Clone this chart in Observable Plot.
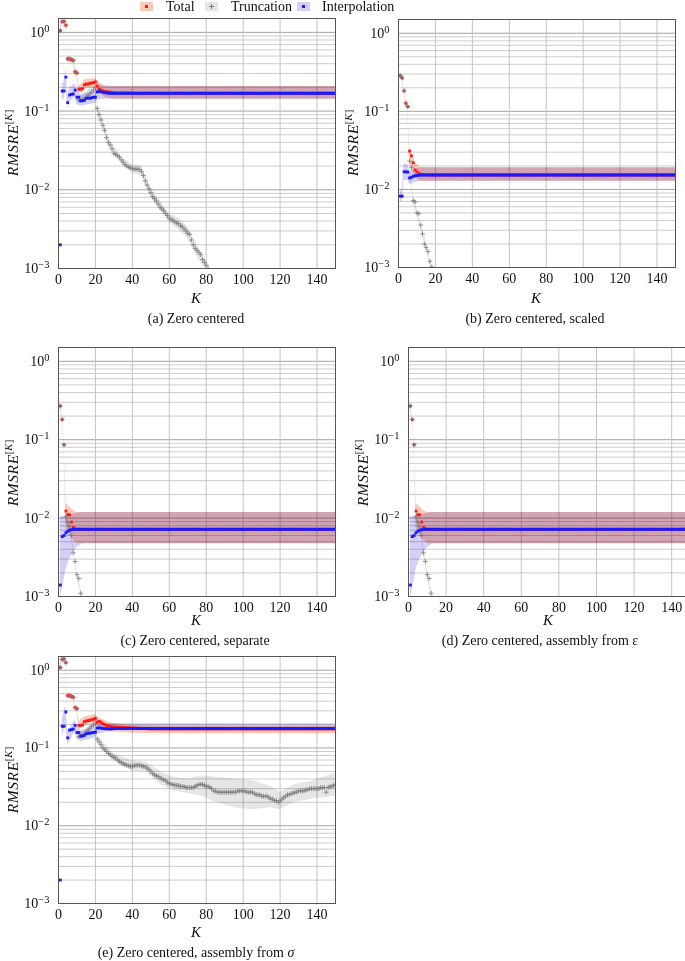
<!DOCTYPE html>
<html><head><meta charset="utf-8">
<script src="https://cdn.jsdelivr.net/npm/d3@7"></script>
<script src="https://cdn.jsdelivr.net/npm/@observablehq/plot@0.6"></script>
<style>
html,body{margin:0;padding:0;background:#fff;}
body{width:685px;height:961px;overflow:hidden;position:relative;font-family:"Liberation Serif",serif;color:#111;}
.abs{position:absolute;}
.abs svg{max-width:none !important;}
.cap{position:absolute;font-size:14px;white-space:nowrap;transform:translate(-50%,-50%);}
.klab{position:absolute;font-size:15px;font-style:italic;transform:translate(-50%,-50%);}
.ylab{position:absolute;font-size:15.5px;white-space:nowrap;transform:translate(-50%,-50%) rotate(-90deg);}
.ylab i{font-style:italic;letter-spacing:0.6px}
.ylab sup{font-size:10.5px;vertical-align:6px;}
.leg{position:absolute;top:0;font-size:14px;line-height:14px;white-space:nowrap;}
.sw{position:absolute;width:13px;height:9px;}
</style></head>
<body>
<script>
// ---------- data: values per K = 1,2,3,... ----------
const xTicks = [0,20,40,60,80,100,120,140];
const yDecades = [1e-3,1e-2,1e-1,1];
const legendLabels = ["Total","Truncation","Interpolation"];
const captions = ["(a) Zero centered","(b) Zero centered, scaled","(c) Zero centered, separate","(d) Zero centered, assembly from ε","(e) Zero centered, assembly from <i>σ</i>"];

// (a) Zero centered
const aTot = [
1.05,1.36,1.38,1.23,0.46,0.46,0.45,0.44,0.315,0.305,
0.19,0.19,0.192,0.215,0.22,0.22,0.225,0.228,0.23,0.235,
0.208,0.19,0.185,0.18,0.178,0.176,0.175,0.174,0.172,0.171,
.17,.17,.17,.17,.17,.17,.17,.17,.17,.17,
.169,.169,.169,.169,.169,.169,.169,.169,.169,.169,
.169,.169,.169,.169,.169,.169,.169,.169,.169,.169,
.169,.169,.169,.169,.169,.169,.169,.169,.169,.169,
.169,.169,.169,.169,.169,.169,.169,.169,.169,.169,
.169,.169,.169,.169,.169,.169,.169,.169,.169,.169,
.169,.169,.169,.169,.169,.169,.169,.169,.169,.169,
.169,.169,.169,.169,.169,.169,.169,.169,.169,.169,
.169,.169,.169,.169,.169,.169,.169,.169,.169,.169,
.169,.169,.169,.169,.169,.169,.169,.169,.169,.169,
.169,.169,.169,.169,.169,.169,.169,.169,.169,.169,
.169,.169,.169,.169,.169,.169,.169,.169,.169,.169];
const aTrunc = [
1.05,1.36,1.38,1.23,0.46,0.46,0.45,0.44,0.315,0.305,
0.138,0.138,0.14,0.142,0.15,0.158,0.166,0.175,0.185,0.198,
0.108,0.09,0.077,0.066,0.057,0.046,0.04,0.037,0.033,0.029,
0.028,0.027,0.026,0.024,0.0225,0.021,0.02,0.0194,0.019,0.0186,
0.0184,0.0183,0.0182,0.018,0.017,0.0152,0.013,0.0115,0.0103,0.0092,
0.0082,0.0077,0.0072,0.0066,0.006,0.0057,0.0054,0.005,0.0047,0.0044,
0.0042,0.0041,0.0039,0.0038,0.0037,0.0035,0.0034,0.0032,0.003,0.0028,
0.0027,0.0023,0.002,0.0018,0.0017,0.0016,0.0015,0.0013,0.0012,0.0011,0.001];
const aInt = [
0.002,0.18,0.18,0.27,0.128,0.16,0.163,0.165,0.185,0.15,
0.15,0.135,0.135,0.137,0.145,0.147,0.145,0.148,0.15,0.15,
0.175,0.178,0.176,0.174,0.172,0.17,0.169,0.168,0.168,0.168,
.168,.168,.168,.168,.168,.168,.168,.168,.168,.168,
.168,.168,.168,.168,.168,.168,.168,.168,.168,.168,
.168,.168,.168,.168,.168,.168,.168,.168,.168,.168,
.168,.168,.168,.168,.168,.168,.168,.168,.168,.168,
.168,.168,.168,.168,.168,.168,.168,.168,.168,.168,
.168,.168,.168,.168,.168,.168,.168,.168,.168,.168,
.168,.168,.168,.168,.168,.168,.168,.168,.168,.168,
.168,.168,.168,.168,.168,.168,.168,.168,.168,.168,
.168,.168,.168,.168,.168,.168,.168,.168,.168,.168,
.168,.168,.168,.168,.168,.168,.168,.168,.168,.168,
.168,.168,.168,.168,.168,.168,.168,.168,.168,.168,
.168,.168,.168,.168,.168,.168,.168,.168,.168,.168];
// bands: [K, low, high]
const aTotBand = [[1,0.98,1.12],[2,1.3,1.45],[3,1.3,1.45],[4,1.15,1.3],[5,0.43,0.49],[8,0.41,0.47],[9,0.29,0.34],[10,0.28,0.33],[11,0.17,0.21],[13,0.17,0.22],[14,0.19,0.25],[20,0.2,0.26],[21,0.18,0.24],[25,0.15,0.21],[30,0.141,0.205],[150,0.141,0.205]];
const aIntBand = [[2,0.14,0.22],[3,0.14,0.23],[4,0.2,0.34],[5,0.11,0.15],[6,0.13,0.2],[9,0.15,0.22],[10,0.12,0.19],[12,0.115,0.16],[16,0.12,0.17],[20,0.125,0.175],[21,0.14,0.215],[26,0.141,0.205],[150,0.141,0.205]];
const aTruncBand = [[11,0.13,0.15],[20,0.185,0.215],[21,0.095,0.12],[25,0.05,0.065],[28,0.033,0.042],[35,0.02,0.025],[40,0.0165,0.021],[45,0.015,0.02],[50,0.008,0.0105],[60,0.0038,0.005],[66,0.003,0.0042],[70,0.0024,0.0034],[75,0.0014,0.002],[81,0.0009,0.00115]];

// (b) Zero centered, scaled
const bTot = [
0.286,0.267,0.183,0.127,0.115,0.031,0.027,0.022,0.0178,0.0168,
0.016,0.0157,0.0155,0.0154,.0153,.0153,.0153,.0153,.0153,.0153,
.0153,.0153,.0153,.0153,.0153,.0153,.0153,.0153,.0153,.0153,
.0153,.0153,.0153,.0153,.0153,.0153,.0153,.0153,.0153,.0153,
.0153,.0153,.0153,.0153,.0153,.0153,.0153,.0153,.0153,.0153,
.0153,.0153,.0153,.0153,.0153,.0153,.0153,.0153,.0153,.0153,
.0153,.0153,.0153,.0153,.0153,.0153,.0153,.0153,.0153,.0153,
.0153,.0153,.0153,.0153,.0153,.0153,.0153,.0153,.0153,.0153,
.0153,.0153,.0153,.0153,.0153,.0153,.0153,.0153,.0153,.0153,
.0153,.0153,.0153,.0153,.0153,.0153,.0153,.0153,.0153,.0153,
.0153,.0153,.0153,.0153,.0153,.0153,.0153,.0153,.0153,.0153,
.0153,.0153,.0153,.0153,.0153,.0153,.0153,.0153,.0153,.0153,
.0153,.0153,.0153,.0153,.0153,.0153,.0153,.0153,.0153,.0153,
.0153,.0153,.0153,.0153,.0153,.0153,.0153,.0153,.0153,.0153,
.0153,.0153,.0153,.0153,.0153,.0153,.0153,.0153,.0153,.0153];
const bTrunc = [0.286,0.267,0.183,0.127,0.115,0.023,0.019,0.0072,0.0069,0.005,
0.0049,0.0035,0.0027,0.002,0.0018,0.0016,0.0012,0.00102];
const bInt = [
0.0082,0.0082,0.0168,0.0168,0.0167,0.014,0.0143,0.0147,0.015,0.0151,
0.0152,0.0152,.0153,.0153,.0153,.0153,.0153,.0153,.0153,.0153,
.0153,.0153,.0153,.0153,.0153,.0153,.0153,.0153,.0153,.0153,
.0153,.0153,.0153,.0153,.0153,.0153,.0153,.0153,.0153,.0153,
.0153,.0153,.0153,.0153,.0153,.0153,.0153,.0153,.0153,.0153,
.0153,.0153,.0153,.0153,.0153,.0153,.0153,.0153,.0153,.0153,
.0153,.0153,.0153,.0153,.0153,.0153,.0153,.0153,.0153,.0153,
.0153,.0153,.0153,.0153,.0153,.0153,.0153,.0153,.0153,.0153,
.0153,.0153,.0153,.0153,.0153,.0153,.0153,.0153,.0153,.0153,
.0153,.0153,.0153,.0153,.0153,.0153,.0153,.0153,.0153,.0153,
.0153,.0153,.0153,.0153,.0153,.0153,.0153,.0153,.0153,.0153,
.0153,.0153,.0153,.0153,.0153,.0153,.0153,.0153,.0153,.0153,
.0153,.0153,.0153,.0153,.0153,.0153,.0153,.0153,.0153,.0153,
.0153,.0153,.0153,.0153,.0153,.0153,.0153,.0153,.0153,.0153,
.0153,.0153,.0153,.0153,.0153,.0153,.0153,.0153,.0153,.0153];
const bTotBand = [[1,0.27,0.3],[2,0.25,0.28],[3,0.17,0.19],[4,0.12,0.135],[5,0.108,0.122],[6,0.022,0.034],[7,0.019,0.03],[9,0.014,0.022],[12,0.0127,0.0189],[150,0.0127,0.0189]];
const bIntBand = [[1,0.007,0.0096],[2,0.007,0.0096],[3,0.013,0.021],[5,0.013,0.021],[6,0.0115,0.017],[9,0.0122,0.018],[12,0.0127,0.0189],[150,0.0127,0.0189]];
const bTruncBand = [[6,0.02,0.026],[8,0.0065,0.008],[12,0.0031,0.0039],[18,0.0009,0.0011]];

// (c) Zero centered, separate  and  (d) assembly from ε (identical in the reference)
const cTot = [
0.269,0.181,0.086,0.0123,0.0111,0.011,0.0089,0.0076,0.0073,0.0072,
.0072,.0072,.0072,.0072,.0072,.0072,.0072,.0072,.0072,.0072,
.0072,.0072,.0072,.0072,.0072,.0072,.0072,.0072,.0072,.0072,
.0072,.0072,.0072,.0072,.0072,.0072,.0072,.0072,.0072,.0072,
.0072,.0072,.0072,.0072,.0072,.0072,.0072,.0072,.0072,.0072,
.0072,.0072,.0072,.0072,.0072,.0072,.0072,.0072,.0072,.0072,
.0072,.0072,.0072,.0072,.0072,.0072,.0072,.0072,.0072,.0072,
.0072,.0072,.0072,.0072,.0072,.0072,.0072,.0072,.0072,.0072,
.0072,.0072,.0072,.0072,.0072,.0072,.0072,.0072,.0072,.0072,
.0072,.0072,.0072,.0072,.0072,.0072,.0072,.0072,.0072,.0072,
.0072,.0072,.0072,.0072,.0072,.0072,.0072,.0072,.0072,.0072,
.0072,.0072,.0072,.0072,.0072,.0072,.0072,.0072,.0072,.0072,
.0072,.0072,.0072,.0072,.0072,.0072,.0072,.0072,.0072,.0072,
.0072,.0072,.0072,.0072,.0072,.0072,.0072,.0072,.0072,.0072,
.0072,.0072,.0072,.0072,.0072,.0072,.0072,.0072,.0072,.0072];
const cTrunc = [0.269,0.181,0.086,0.0104,0.0088,0.0078,0.006,0.0036,0.0028,0.0019,0.0017,0.0011,0.00095];
const cInt = [
0.0014,0.0058,0.006,0.0065,0.0068,0.007,0.0071,0.0072,0.0072,0.0072,
.0072,.0072,.0072,.0072,.0072,.0072,.0072,.0072,.0072,.0072,
.0072,.0072,.0072,.0072,.0072,.0072,.0072,.0072,.0072,.0072,
.0072,.0072,.0072,.0072,.0072,.0072,.0072,.0072,.0072,.0072,
.0072,.0072,.0072,.0072,.0072,.0072,.0072,.0072,.0072,.0072,
.0072,.0072,.0072,.0072,.0072,.0072,.0072,.0072,.0072,.0072,
.0072,.0072,.0072,.0072,.0072,.0072,.0072,.0072,.0072,.0072,
.0072,.0072,.0072,.0072,.0072,.0072,.0072,.0072,.0072,.0072,
.0072,.0072,.0072,.0072,.0072,.0072,.0072,.0072,.0072,.0072,
.0072,.0072,.0072,.0072,.0072,.0072,.0072,.0072,.0072,.0072,
.0072,.0072,.0072,.0072,.0072,.0072,.0072,.0072,.0072,.0072,
.0072,.0072,.0072,.0072,.0072,.0072,.0072,.0072,.0072,.0072,
.0072,.0072,.0072,.0072,.0072,.0072,.0072,.0072,.0072,.0072,
.0072,.0072,.0072,.0072,.0072,.0072,.0072,.0072,.0072,.0072,
.0072,.0072,.0072,.0072,.0072,.0072,.0072,.0072,.0072,.0072];
const cTotBand = [[1,0.25,0.29],[2,0.17,0.195],[3,0.08,0.093],[4,0.0075,0.0155],[6,0.006,0.014],[8,0.0052,0.0125],[10,0.0047,0.0118],[150,0.0047,0.0118]];
const cIntBand = [[1,0.001,0.0105],[2,0.0012,0.0105],[4,0.0022,0.0107],[6,0.003,0.0109],[8,0.0036,0.0112],[10,0.0042,0.0115],[13,0.0047,0.0118],[150,0.0047,0.0118]];
const cTruncBand = [[4,0.0095,0.0112],[7,0.0054,0.0067],[10,0.0017,0.0021],[13,0.00085,0.00105]];

// (e) Zero centered, assembly from σ
const eTot = [
1.08,1.38,1.4,1.25,0.47,0.47,0.46,0.45,0.33,0.32,
0.195,0.195,0.198,0.218,0.222,0.225,0.228,0.23,0.235,0.24,
0.215,0.22,0.215,0.205,0.2,0.195,0.192,0.19,0.188,0.186,
0.185,0.185,0.184,0.184,0.183,0.183,0.182,0.182,0.181,0.18,
0.18,0.18,0.179,0.179,0.178,0.178,0.177,0.177,0.177,0.176,
.176,.176,.176,.176,.176,.176,.176,.176,.176,.176,
.176,.176,.176,.176,.176,.176,.176,.176,.176,.176,
.176,.176,.176,.176,.176,.176,.176,.176,.176,.176,
.176,.176,.176,.176,.176,.176,.176,.176,.176,.176,
.176,.176,.176,.176,.176,.176,.176,.176,.176,.176,
.176,.176,.176,.176,.176,.176,.176,.176,.176,.176,
.176,.176,.176,.176,.176,.176,.176,.176,.176,.176,
.176,.176,.176,.176,.176,.176,.176,.176,.176,.176,
.176,.176,.176,.176,.176,.176,.176,.176,.176,.176,
.176,.176,.176,.176,.176,.176,.176,.176,.176,.176];
const eTrunc = [
1.08,1.38,1.4,1.25,0.47,0.47,0.46,0.45,0.33,0.32,
0.14,0.142,0.145,0.15,0.16,0.17,0.18,0.19,0.198,0.205,
0.13,0.12,0.11,0.1,0.095,0.09,0.085,0.082,0.078,0.076,
0.074,0.07,0.067,0.065,0.063,0.061,0.06,0.059,0.058,0.058,
0.059,0.06,0.06,0.06,0.059,0.058,0.057,0.055,0.053,0.05,
0.047,0.045,0.044,0.043,0.041,0.04,0.039,0.038,0.036,0.035,
0.034,0.034,0.033,0.033,0.033,0.032,0.032,0.032,0.031,0.031,
0.031,0.031,0.031,0.032,0.033,0.034,0.034,0.034,0.033,0.032,
0.032,0.031,0.03,0.028,0.028,0.027,0.027,0.027,0.027,0.027,
0.027,0.027,0.027,0.027,0.027,0.027,0.028,0.028,0.028,0.028,
0.028,0.027,0.027,0.027,0.027,0.026,0.025,0.025,0.025,0.024,
0.024,0.024,0.024,0.023,0.022,0.022,0.021,0.021,0.02,0.021,
0.022,0.023,0.024,0.025,0.025,0.026,0.026,0.027,0.027,0.028,
0.028,0.028,0.028,0.029,0.029,0.03,0.03,0.03,0.03,0.03,
0.03,0.031,0.031,0.031,0.027,0.031,0.032,0.032,0.033,0.034];
const eInt = [
0.002,0.19,0.19,0.29,0.135,0.17,0.172,0.175,0.195,0.158,
0.158,0.142,0.143,0.145,0.152,0.155,0.155,0.157,0.158,0.16,
0.18,0.182,0.18,0.178,0.177,0.177,0.176,0.176,0.177,0.177,
.178,.178,.178,.178,.178,.178,.178,.178,.178,.178,
.178,.178,.178,.178,.178,.178,.178,.178,.178,.178,
.178,.178,.178,.178,.178,.178,.178,.178,.178,.178,
.178,.178,.178,.178,.178,.178,.178,.178,.178,.178,
.178,.178,.178,.178,.178,.178,.178,.178,.178,.178,
.178,.178,.178,.178,.178,.178,.178,.178,.178,.178,
.178,.178,.178,.178,.178,.178,.178,.178,.178,.178,
.178,.178,.178,.178,.178,.178,.178,.178,.178,.178,
.178,.178,.178,.178,.178,.178,.178,.178,.178,.178,
.178,.178,.178,.178,.178,.178,.178,.178,.178,.178,
.178,.178,.178,.178,.178,.178,.178,.178,.178,.178,
.178,.178,.178,.178,.178,.178,.178,.178,.178,.178];
const eTotBand = [[1,1.0,1.15],[2,1.3,1.47],[4,1.18,1.32],[5,0.44,0.5],[8,0.42,0.48],[9,0.3,0.35],[10,0.29,0.34],[11,0.17,0.22],[14,0.19,0.25],[20,0.21,0.27],[21,0.19,0.25],[28,0.16,0.21],[40,0.155,0.195],[60,0.152,0.19],[150,0.152,0.19]];
const eIntBand = [[2,0.14,0.24],[4,0.2,0.35],[5,0.11,0.16],[9,0.16,0.23],[10,0.13,0.19],[12,0.12,0.165],[20,0.135,0.185],[21,0.15,0.21],[30,0.166,0.205],[150,0.166,0.205]];
const eTruncBand = [[11,0.13,0.15],[20,0.19,0.22],[21,0.115,0.145],[30,0.068,0.085],[40,0.05,0.068],[47,0.05,0.066],[55,0.034,0.05],[62,0.028,0.042],[70,0.026,0.04],[78,0.024,0.044],[85,0.02,0.042],[95,0.017,0.04],[105,0.016,0.038],[115,0.017,0.032],[120,0.016,0.027],[128,0.02,0.034],[138,0.022,0.038],[150,0.024,0.048]];

// ---------- styling ----------
const C = {tot:"#ff1a1a", trunc:"#7a7a7a", int:"#1a1aff",
  totBand:"#fbcab8", truncBand:"#e6e6e6", intBand:"#d4cff7"};
const FONT = "'Liberation Serif', serif";

const panels = [
  {tot:aTot, trunc:aTrunc, int:aInt, tb:aTotBand, rb:aTruncBand, ib:aIntBand, left:0,   top:0,   w:340, h:305, mt:18, mb:37, mr:5, cap:captions[0], capX:196, capY:319, kX:196, kY:298, yl:[12,143]},
  {tot:bTot, trunc:bTrunc, int:bInt, tb:bTotBand, rb:bTruncBand, ib:bIntBand, left:340, top:1,   w:340, h:305, mt:18, mb:39, mr:5, cap:captions[1], capX:535, capY:319, kX:536, kY:298, yl:[352,143]},
  {tot:cTot, trunc:cTrunc, int:cInt, tb:cTotBand, rb:cTruncBand, ib:cIntBand, left:0,   top:329, w:340, h:305, mt:18, mb:38, mr:5, cap:captions[2], capX:195, capY:641, kX:196, kY:620, yl:[12,473]},
  {tot:cTot, trunc:cTrunc, int:cInt, tb:cTotBand, rb:cTruncBand, ib:cIntBand, left:350, top:329, w:340, h:305, mt:18, mb:38, mr:0, cap:captions[3], capX:540, capY:641, kX:548, kY:620, yl:[362,473]},
  {tot:eTot, trunc:eTrunc, int:eInt, tb:eTotBand, rb:eTruncBand, ib:eIntBand, left:0,   top:638, w:340, h:303, mt:18, mb:38, mr:5, cap:captions[4], capX:196, capY:953, kX:196, kY:932, yl:[12,780]}
];

const allY = d3.scaleLog().domain([1e-3, 1.5]).ticks();
const isDecade = v => Math.abs(Math.log10(v) - Math.round(Math.log10(v))) < 1e-6;
const minorY = allY.filter(v => !isDecade(v));

function band(data, fill){
  return Plot.areaY(data, {x: d => d[0], y1: d => d[1], y2: d => d[2], fill, clip: true});
}

for (const p of panels){
  const svg = Plot.plot({
    width: p.w, height: p.h,
    marginLeft: 58, marginRight: p.mr, marginTop: p.mt, marginBottom: p.mb,
    x: {domain: [0, 150]},
    y: {type: "log", domain: [1e-3, 1.5]},
    style: {fontFamily: FONT, fontSize: "14px", color: "#111", background: "transparent", overflow: "visible", maxWidth: "none"},
    marks: [
      Plot.ruleY(minorY, {stroke: "#c7c7c7", strokeWidth: 0.9}),
      Plot.ruleY(yDecades, {stroke: "#a4a4a4", strokeWidth: 1}),
      Plot.ruleX(xTicks, {stroke: "#c4c4c4", strokeWidth: 1}),
      band(p.rb, C.truncBand),
      band(p.tb, C.totBand),
      band(p.ib, C.intBand),
      Plot.dot(p.tot, {x: (d, i) => i + 1, y: d => d, symbol: "square", r: 1.6, fill: C.tot, clip: true}),
      Plot.dot(p.trunc, {x: (d, i) => i + 1, y: d => d, symbol: "plus", r: 1.7, stroke: C.trunc, strokeWidth: 0.8, clip: true}),
      Plot.dot(p.int, {x: (d, i) => i + 1, y: d => d, symbol: "square", r: 1.6, fill: C.int, clip: true}),
      Plot.frame({stroke: "#555", strokeWidth: 1}),
      Plot.axisX({ticks: xTicks, tickSize: 0, tickPadding: 6, label: null, tickFormat: d => String(d)}),
      Plot.axisY({ticks: yDecades, tickSize: 0, tickPadding: 9, label: null,
        tickFormat: v => "10|" + String(Math.round(Math.log10(v))).replace("-", "\u2212")})
    ]
  });
  // bands blend like translucent fills (overlap of Total and Interpolation gives mauve)
  d3.select(svg).selectAll('g[aria-label="area"]').style("mix-blend-mode", "multiply");
  // superscript exponents on the y tick labels
  d3.select(svg).selectAll('g[aria-label="y-axis tick label"] text').each(function(){
    const t = d3.select(this), s = t.text();
    if (!s.includes("|")) return;
    const [b, e] = s.split("|");
    t.text(null);
    t.append("tspan").text(b);
    t.append("tspan").attr("dy", "-0.45em").attr("font-size", "10.5px").text(e);
  });
  const wrap = document.createElement("div");
  wrap.className = "abs";
  wrap.style.left = p.left + "px"; wrap.style.top = p.top + "px";
  wrap.style.width = p.w + "px"; wrap.style.height = p.h + "px";
  wrap.appendChild(svg);
  document.body.appendChild(wrap);

  const k = document.createElement("div"); k.className = "klab";
  k.style.left = p.kX + "px"; k.style.top = p.kY + "px"; k.textContent = "K";
  document.body.appendChild(k);

  const cap = document.createElement("div"); cap.className = "cap";
  cap.style.left = p.capX + "px"; cap.style.top = p.capY + "px"; cap.innerHTML = p.cap;
  document.body.appendChild(cap);

  const yl = document.createElement("div"); yl.className = "ylab";
  yl.style.left = p.yl[0] + "px"; yl.style.top = p.yl[1] + "px";
  yl.innerHTML = "<i>RMSRE</i><sup>[<i>K</i>]</sup>";
  document.body.appendChild(yl);
}

// ---------- legend (above the panels) ----------
const legItems = [
  {x:140, tx:166, fill:C.totBand, mark:"sq", col:C.tot, label:legendLabels[0]},
  {x:205, tx:231, fill:C.truncBand, mark:"plus", col:C.trunc, label:legendLabels[1]},
  {x:297, tx:322, fill:C.intBand, mark:"sq", col:C.int, label:legendLabels[2]}
];
for (const it of legItems){
  const sw = document.createElement("div"); sw.className = "sw";
  sw.style.left = it.x + "px"; sw.style.top = "2px"; sw.style.background = it.fill;
  if (it.mark === "sq") {
    sw.innerHTML = `<div style="position:absolute;left:5px;top:3px;width:3px;height:3px;background:${it.col}"></div>`;
  } else {
    sw.innerHTML = `<div style="position:absolute;left:6px;top:2px;width:1px;height:5px;background:${it.col}"></div><div style="position:absolute;left:4px;top:4px;width:5px;height:1px;background:${it.col}"></div>`;
  }
  document.body.appendChild(sw);
  const lb = document.createElement("div"); lb.className = "leg";
  lb.style.left = it.tx + "px"; lb.style.top = "0px"; lb.textContent = it.label;
  document.body.appendChild(lb);
}
</script>
</body></html>
